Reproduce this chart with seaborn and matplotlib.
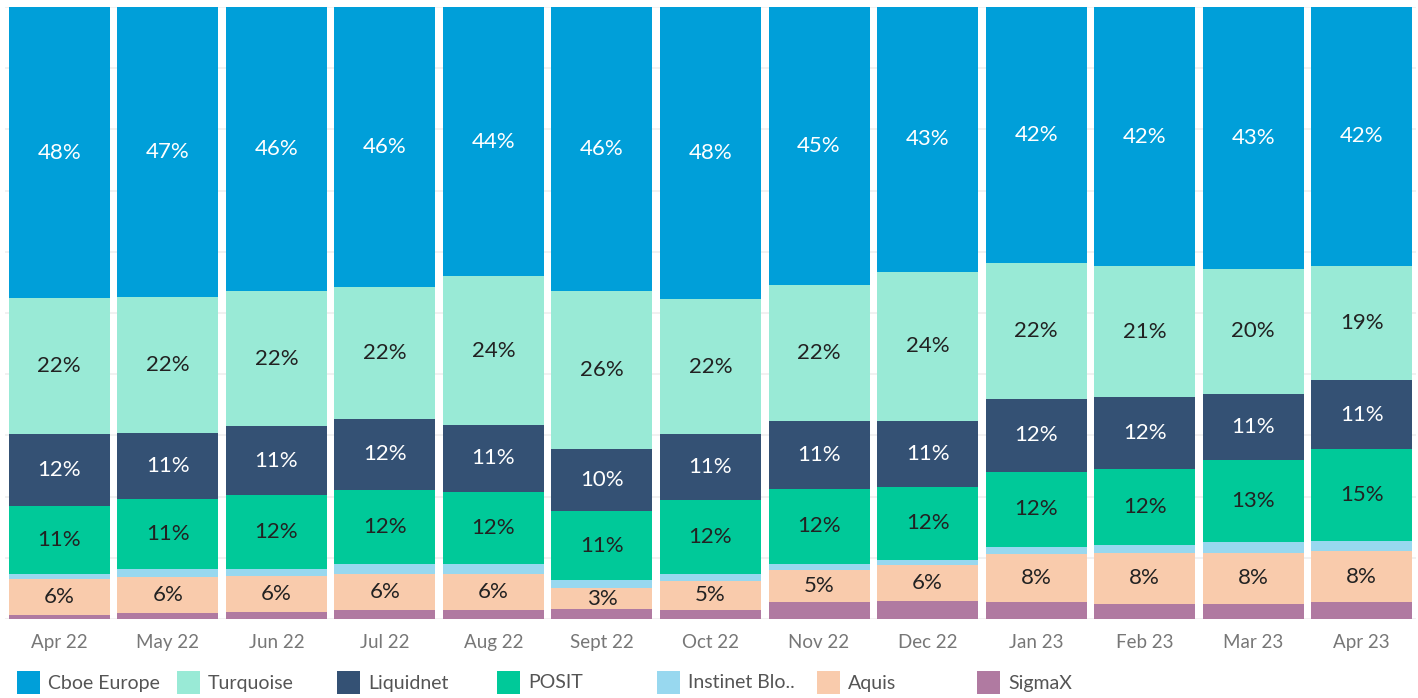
import numpy as np
import pandas as pd
import matplotlib
matplotlib.use("Agg")
import matplotlib.pyplot as plt
from matplotlib.patches import Rectangle
import seaborn as sns

months = ["Apr 22", "May 22", "Jun 22", "Jul 22", "Aug 22", "Sept 22", "Oct 22",
          "Nov 22", "Dec 22", "Jan 23", "Feb 23", "Mar 23", "Apr 23"]

# bottom -> top order
sigmax    = [0.7, 1.0, 1.1, 1.5, 1.5, 1.6, 1.5, 2.8, 2.9, 2.8, 2.5, 2.5, 2.7]
aquis     = [5.8, 5.9, 6.0, 5.9, 5.9, 3.4, 4.7, 5.2, 6.0, 7.8, 8.3, 8.3, 8.4]
instinet  = [0.9, 1.3, 1.0, 1.6, 1.6, 1.3, 1.1, 1.0, 0.8, 1.1, 1.3, 1.8, 1.6]
posit     = [11.1, 11.4, 12.1, 12.1, 11.8, 11.4, 12.1, 12.3, 11.9, 12.4, 12.4, 13.4, 15.0]
liquidnet = [11.8, 10.8, 11.3, 11.6, 10.9, 10.0, 10.8, 11.1, 10.8, 11.8, 11.8, 10.8, 11.3]
turquoise = [22.1, 22.2, 22.1, 21.5, 24.3, 25.9, 22.1, 22.2, 24.3, 22.2, 21.3, 20.4, 18.7]
cboe      = [47.6, 47.4, 46.4, 45.8, 44.0, 46.4, 47.7, 45.4, 43.3, 41.9, 42.4, 42.8, 42.3]

series_names = ["Cboe Europe", "Turquoise", "Liquidnet", "POSIT", "Instinet Blo..", "Aquis", "SigmaX"]
series_values = [cboe, turquoise, liquidnet, posit, instinet, aquis, sigmax]
colors = ["#009FD9", "#99EAD6", "#345174", "#00C999", "#98D8EF", "#F9CBAC", "#B07AA1"]
text_colors = ["white", "#222222", "white", "#222222", "#222222", "#222222", "white"]

sns.set_style("white")
plt.rcParams["font.family"] = ["Lato", "DejaVu Sans"]

# long-form data with cumulative tops (stack from bottom)
rows = []
stack_order = list(range(len(series_names)))[::-1]  # bottom first
cum = np.zeros(len(months))
for si in stack_order:
    vals = np.array(series_values[si], dtype=float)
    cum = cum + vals
    for mi, m in enumerate(months):
        rows.append({"month": m, "series": series_names[si], "value": vals[mi],
                     "top": cum[mi], "idx": mi, "si": si})
df = pd.DataFrame(rows)

W, H = 1418, 698
fig = plt.figure(figsize=(W / 100, H / 100), dpi=100)
ax = fig.add_axes([5 / W, 79 / H, 1411 / W, 612 / H])

# draw from top series (largest cumulative) down so lower ones overlay
for si in range(len(series_names)):
    sub = df[df["si"] == si]
    sns.barplot(data=sub, x="month", y="top", order=months, color=colors[si],
                saturation=1, width=0.93, errorbar=None, ax=ax, linewidth=0,
                zorder=2 + si)

for _, r in df.iterrows():
    if r["value"] >= 3:
        ax.text(r["idx"], r["top"] - r["value"] / 2,
                f"{int(np.floor(r['value'] + 0.5))}%",
                ha="center", va="center", fontsize=16,
                color=text_colors[int(r["si"])], zorder=20)

ax.set_xlim(-0.5, len(months) - 0.5)
ax.set_ylim(0, 100)
ax.set_yticks(np.arange(0, 101, 10))
ax.set_yticklabels([])
ax.yaxis.grid(True, color="#efefef", linewidth=1.2)
ax.xaxis.grid(False)
ax.set_axisbelow(True)
ax.set_xlabel("")
ax.set_ylabel("")
for sp in ax.spines.values():
    sp.set_visible(False)
ax.tick_params(axis="y", length=0)
ax.set_xticks(np.arange(len(months)))
ax.set_xticklabels(months)
ax.set_xticks(np.arange(-0.5, len(months), 1), minor=True)
ax.tick_params(axis="x", which="major", length=0, pad=11, labelsize=13.5, labelcolor="#777777")
ax.tick_params(axis="x", which="minor", length=8, width=1, color="#e8e8e8")

# legend (one row)
for i, (name, c) in enumerate(zip(series_names, colors)):
    x0 = 17 + 160 * i
    fig.patches.append(Rectangle((x0 / W, (H - 694) / H), 23 / W, 23 / H,
                                 transform=fig.transFigure, facecolor=c,
                                 edgecolor="none"))
    fig.text((x0 + 31) / W, (H - 683) / H, name, fontsize=14, color="#555555",
             ha="left", va="center")

fig.savefig("out.png", dpi=100)
